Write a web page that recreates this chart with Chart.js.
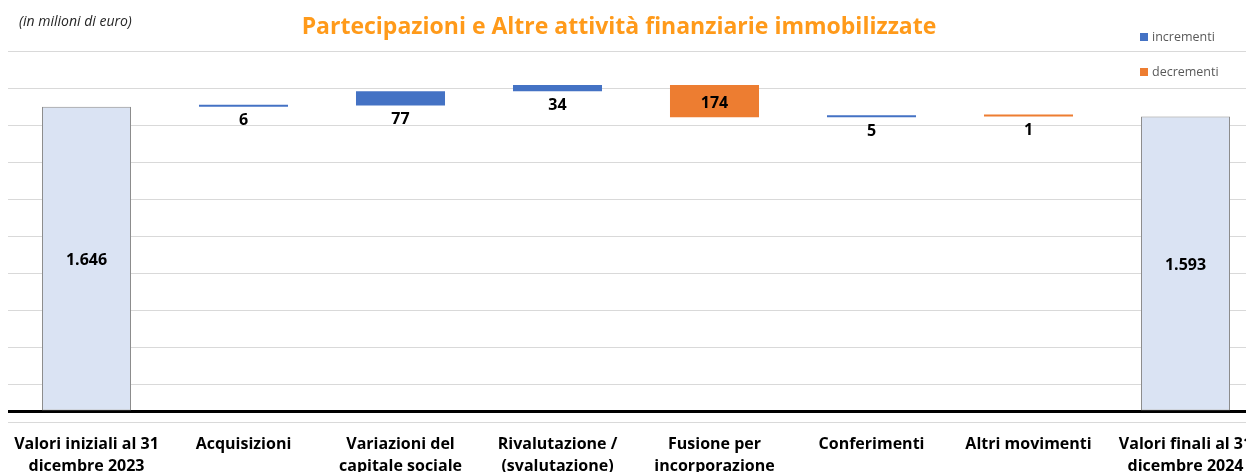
<!DOCTYPE html>
<html lang="it">
<head>
<meta charset="UTF-8">
<title>Partecipazioni e Altre attività finanziarie immobilizzate</title>
<script src="https://cdn.jsdelivr.net/npm/chart.js"></script>
<style>
  html, body { margin: 0; padding: 0; background: #ffffff; overflow: hidden; }
  #wrap { position: relative; width: 1264px; height: 488px; }
</style>
</head>
<body>
<div id="wrap"><canvas id="waterfall" width="1264" height="488"></canvas></div>
<script>
// categories (x axis)
const categories = [
  ['Valori iniziali al 31', 'dicembre 2023'],
  'Acquisizioni',
  ['Variazioni del', 'capitale sociale'],
  ['Rivalutazione /', '(svalutazione)'],
  ['Fusione per', 'incorporazione'],
  'Conferimenti',
  'Altri movimenti',
  ['Valori finali al 31', 'dicembre 2024']
];
// values in millions of euro
const totals     = [1646, null, null, null, null, null, null, 1593];
const increments = [null, 6, 77, 34, null, 5, null, null];
const decrements = [null, null, null, null, 174, null, 1, null];

const legendNames = ['incrementi', 'decrementi'];
const yMin = -54, yMax = 1946, gridStep = 200;

// build floating bars from the running total
let running = 0;
const totalBars = [], incBars = [], decBars = [];
categories.forEach((c, i) => {
  totalBars.push(null); incBars.push(null); decBars.push(null);
  if (totals[i] !== null) {
    running = totals[i];
    totalBars[i] = [0, totals[i]];
  } else if (increments[i] !== null) {
    incBars[i] = [running, running + increments[i]];
    running += increments[i];
  } else if (decrements[i] !== null) {
    decBars[i] = [running - decrements[i], running];
    running -= decrements[i];
  }
});

const gridValues = [0];
for (let v = yMin; v <= yMax; v += gridStep) gridValues.push(v);

const BLUE = '#4472C4', ORANGE = '#ED7D31';
const FONT = '"Open Sans", Lato, sans-serif';

function fmt(v) {
  return String(v).replace(/\B(?=(\d{3})+(?!\d))/g, '.');
}

// value labels: inside tall bars, just under thin ones
const valueLabels = {
  id: 'valueLabels',
  afterDatasetsDraw(chart) {
    const ctx = chart.ctx;
    ctx.save();
    ctx.font = 'bold 16px ' + FONT;
    ctx.fillStyle = '#000000';
    ctx.textAlign = 'center';
    ctx.textBaseline = 'middle';
    chart.data.datasets.forEach((ds, di) => {
      chart.getDatasetMeta(di).data.forEach((bar, i) => {
        const v = ds.values[i];
        if (v === null || v === undefined) return;
        const top = Math.min(bar.y, bar.base), bottom = Math.max(bar.y, bar.base);
        const y = (bottom - top > 20) ? (top + bottom) / 2 + 2 : bottom + 14;
        ctx.fillText(fmt(v), bar.x, y);
      });
    });
    ctx.restore();
  }
};

// title, unit note and legend
const overlay = {
  id: 'overlay',
  afterDraw(chart) {
    const ctx = chart.ctx;
    ctx.save();
    ctx.textBaseline = 'alphabetic';
    ctx.textAlign = 'left';
    ctx.fillStyle = '#262626';
    ctx.font = 'italic 14px ' + FONT;
    ctx.fillText('(in milioni di euro)', 19, 26);

    ctx.textAlign = 'center';
    ctx.fillStyle = '#FF9A1A';
    ctx.font = 'bold 23px ' + FONT;
    ctx.fillText('Partecipazioni e Altre attività finanziarie immobilizzate', 619, 34);

    ctx.textAlign = 'left';
    ctx.font = '12.5px ' + FONT;
    [BLUE, ORANGE].forEach((col, k) => {
      const y = 41 + k * 35;
      ctx.fillStyle = col;
      ctx.fillRect(1140, y - 8, 8, 8);
      ctx.fillStyle = '#595959';
      ctx.fillText(legendNames[k], 1152, y);
    });
    ctx.restore();
  }
};

new Chart(document.getElementById('waterfall'), {
  type: 'bar',
  data: {
    labels: categories,
    datasets: [
      { label: 'totali', data: totalBars, values: totals,
        backgroundColor: '#DAE3F3', borderColor: '#8C8C8C', borderWidth: 1, borderSkipped: false },
      { label: legendNames[0], data: incBars, values: increments,
        backgroundColor: BLUE, borderWidth: 0, minBarLength: 2 },
      { label: legendNames[1], data: decBars, values: decrements,
        backgroundColor: ORANGE, borderWidth: 0, minBarLength: 2 }
    ]
  },
  options: {
    responsive: false,
    animation: false,
    grouped: false,
    barPercentage: 0.567,
    categoryPercentage: 1,
    layout: { padding: { left: 8, top: 51, right: 0, bottom: 0 } },
    plugins: {
      legend: { display: false },
      tooltip: { enabled: false }
    },
    scales: {
      x: {
        grid: { display: false, drawTicks: false },
        border: { display: false },
        ticks: {
          autoSkip: false, maxRotation: 0, padding: 11, color: '#000000',
          font: { family: FONT, size: 16, weight: 'bold', lineHeight: 1.375 }
        }
      },
      y: {
        min: yMin, max: yMax,
        afterBuildTicks: (scale) => { scale.ticks = gridValues.map(v => ({ value: v })); },
        ticks: { display: false },
        border: { display: false },
        grid: {
          drawTicks: false,
          color: (c) => c.tick && c.tick.value === 0 ? '#000000' : '#D9D9D9',
          lineWidth: (c) => c.tick && c.tick.value === 0 ? 3 : 1
        }
      }
    }
  },
  plugins: [valueLabels, overlay]
});
</script>
</body>
</html>
